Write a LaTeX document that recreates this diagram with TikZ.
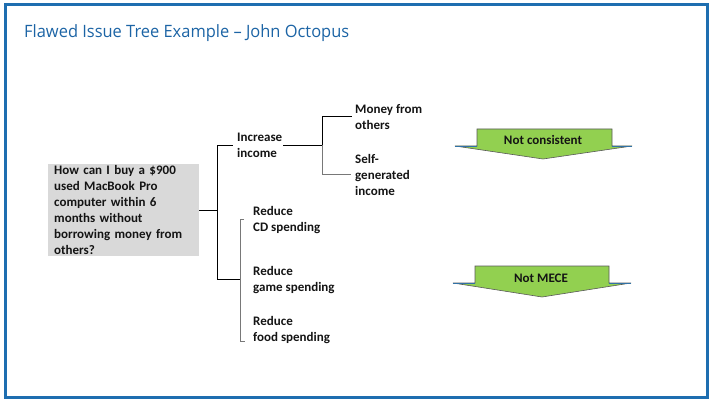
\documentclass[tikz,border=0pt]{standalone}
\usepackage{fontspec}
\setmainfont{Carlito}
\newfontfamily\titlefont{Open Sans}
\usepackage{graphicx}
\usetikzlibrary{calc}
\definecolor{frameblue}{RGB}{30,110,176}
\definecolor{titleblue}{RGB}{28,100,165}
\definecolor{boxgray}{RGB}{217,217,217}
\definecolor{arrgreen}{RGB}{146,208,80}
\definecolor{linegray}{RGB}{120,120,120}
\definecolor{txt}{RGB}{20,20,20}
\begin{document}
\begin{tikzpicture}[x=1pt,y=-1pt,
  bodyfont/.style={font=\bfseries\fontsize{13}{16}\selectfont, text=txt},
  lbl/.style={bodyfont, anchor=north west, inner sep=0pt, align=left},
  conn/.style={draw=black, line width=0.9pt},
  connlight/.style={draw=linegray, line width=0.9pt},
  flag/.style={fill=arrgreen, draw=gray!70!black, line width=0.6pt, line join=miter},
  wing/.style={draw=frameblue!80!gray, line width=0.8pt},
]
\useasboundingbox (0,0) rectangle (713,401);
\draw[frameblue, line width=3pt] (5.5,4.5) rectangle (707.5,397.5);
\node[anchor=base west, inner sep=0pt, text=titleblue] (title) at (24,38)
  {\resizebox{325pt}{\height}{\titlefont\fontsize{17}{20}\selectfont Flawed Issue Tree Example – John Octopus}};

\node[bodyfont, anchor=north west, fill=boxgray, inner xsep=6pt, inner ysep=0pt,
      minimum width=151pt, minimum height=92pt, text width=139pt, align=left] (q) at (48,164)
  {How can I buy a \$900\\ used MacBook Pro\\ computer within 6\\ months without\\ borrowing money from\\ others?};

\node[lbl] (inc) at (237,133) {Increase\\income};
\node[lbl] (money) at (355,104) {Money from\\others};
\node[lbl] (self) at (355,154) {Self-\\generated\\income};
\node[lbl] (cd) at (253,206) {Reduce\\CD spending};
\node[lbl] (game) at (253,266) {Reduce\\game spending};
\node[lbl] (food) at (253,316) {Reduce\\food spending};

% main bracket
\coordinate (j1) at ([xshift=18pt]q.east);
\draw[conn] (q.east) -- (j1);
\draw[conn] (j1) |- ([xshift=-4pt]inc.west);
\coordinate (rt) at ([xshift=-13pt]cd.west);
\coordinate (rb) at ($(food.south west)+(-13,-2)$);
\coordinate (rm) at (rt |- game.west);
\draw[conn] (j1) |- (rm);
\draw[connlight] ([xshift=4pt]rt) -- (rt) -- (rb) -- ([xshift=5pt]rb);

% increase bracket
\coordinate (j2) at ($(money.west |- inc.east)+(-33,0)$);
\draw[conn] ([xshift=1pt]inc.east) -- (j2);
\draw[conn] (j2) |- ([xshift=-3pt]money.west);
\draw[connlight] (j2) |- ([xshift=-4pt]self.west);

% flags
\draw[flag] (477,129) -- (612,129) -- (612,146) -- (632,146) -- (543,159) -- (455,146) -- (477,146) -- cycle;
\draw[wing] (455,146) -- (477,146) (612,146) -- (632,146);
\node[bodyfont, anchor=base, inner sep=0pt] (nc) at (543,145) {Not consistent};

\draw[flag] (475,266) -- (609,266) -- (609,283) -- (631,283) -- (542,297) -- (453,283) -- (475,283) -- cycle;
\draw[wing] (453,283) -- (475,283) (609,283) -- (631,283);
\node[bodyfont, anchor=base, inner sep=0pt] (nm) at (541,283) {Not MECE};
\end{tikzpicture}
\end{document}
